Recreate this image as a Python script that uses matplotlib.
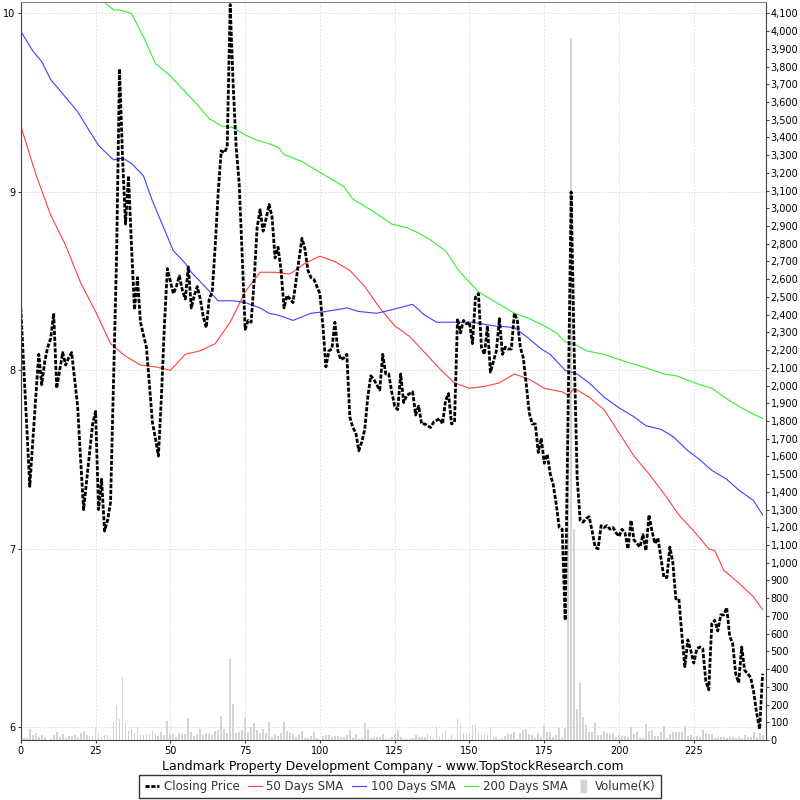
import numpy as np
import matplotlib.pyplot as plt
from matplotlib.lines import Line2D
from matplotlib.ticker import FuncFormatter, MultipleLocator

# closing price, one value per trading day
close = [8.35, 8.02, 7.68, 7.35, 7.60, 7.85, 8.09, 7.92, 8.05, 8.13,
         8.18, 8.32, 7.90, 8.00, 8.10, 8.03, 8.07, 8.10, 7.95, 7.80,
         7.50, 7.22, 7.38, 7.54, 7.70, 7.77, 7.22, 7.39, 7.10, 7.16,
         7.26, 7.95, 8.62, 9.69, 9.20, 8.82, 9.09, 8.70, 8.34, 8.52,
         8.27, 8.20, 8.13, 7.92, 7.71, 7.62, 7.52, 7.85, 8.25, 8.57,
         8.50, 8.43, 8.47, 8.53, 8.45, 8.40, 8.58, 8.35, 8.42, 8.47,
         8.40, 8.30, 8.24, 8.40, 8.44, 8.70, 9.00, 9.23, 9.22, 9.25,
         10.05, 9.60, 9.25, 9.05, 8.65, 8.23, 8.28, 8.27, 8.50, 8.80,
         8.90, 8.78, 8.85, 8.93, 8.86, 8.63, 8.69, 8.56, 8.35, 8.42,
         8.40, 8.38, 8.50, 8.62, 8.74, 8.68, 8.56, 8.52, 8.51, 8.47,
         8.43, 8.25, 8.02, 8.11, 8.12, 8.27, 8.11, 8.06, 8.07, 8.09,
         7.74, 7.68, 7.65, 7.55, 7.60, 7.67, 7.85, 7.97, 7.95, 7.92,
         7.89, 8.09, 7.98, 7.98, 7.88, 7.80, 7.78, 7.98, 7.82, 7.86,
         7.87, 7.88, 7.75, 7.80, 7.70, 7.70, 7.69, 7.68, 7.71, 7.72,
         7.73, 7.70, 7.83, 7.87, 7.70, 7.71, 8.29, 8.21, 8.28, 8.26,
         8.27, 8.15, 8.41, 8.43, 8.13, 8.09, 8.25, 7.99, 8.05, 8.11,
         8.29, 8.09, 8.13, 8.12, 8.12, 8.32, 8.28, 8.13, 8.07, 7.92,
         7.76, 7.70, 7.70, 7.54, 7.62, 7.48, 7.53, 7.42, 7.36, 7.25,
         7.12, 7.11, 6.60, 7.80, 9.00, 8.10, 7.40, 7.16, 7.15, 7.17,
         7.18, 7.10, 7.01, 7.00, 7.13, 7.12, 7.13, 7.11, 7.12, 7.09,
         7.07, 7.11, 7.09, 7.00, 7.16, 7.05, 7.03, 7.01, 7.08, 6.99,
         7.19, 7.10, 7.03, 7.06, 6.95, 6.84, 6.84, 7.01, 6.92, 6.72,
         6.72, 6.52, 6.34, 6.49, 6.43, 6.36, 6.44, 6.45, 6.44, 6.26,
         6.21, 6.58, 6.60, 6.54, 6.63, 6.63, 6.67, 6.51, 6.47, 6.30,
         6.25, 6.45, 6.32, 6.30, 6.28, 6.20, 6.08, 5.99, 6.30]

# volume in thousands
volume = [13, 13, 13, 60, 28, 41, 15, 28, 15, 0,
          8, 28, 45, 15, 34, 11, 23, 23, 28, 15,
          41, 53, 28, 23, 23, 71, 41, 15, 28, 28,
          19, 103, 198, 117, 354, 98, 51, 60, 38, 71,
          28, 28, 28, 34, 56, 38, 23, 47, 28, 107,
          34, 34, 19, 38, 34, 34, 126, 47, 23, 34,
          60, 28, 41, 34, 28, 53, 56, 135, 60, 41,
          457, 201, 38, 47, 56, 128, 47, 71, 98, 56,
          38, 60, 41, 103, 15, 34, 23, 41, 100, 51,
          41, 32, 19, 32, 51, 9, 9, 24, 43, 9,
          5, 24, 28, 28, 19, 24, 24, 19, 15, 28,
          56, 9, 34, 6, 13, 98, 60, 9, 15, 15,
          19, 32, 6, 4, 15, 34, 56, 15, 8, 4,
          4, 13, 26, 15, 15, 19, 32, 19, 19, 75,
          19, 32, 51, 4, 28, 4, 117, 94, 38, 32,
          34, 83, 90, 47, 28, 32, 28, 66, 19, 19,
          6, 9, 23, 34, 34, 43, 4, 38, 56, 60,
          32, 28, 9, 38, 15, 85, 45, 43, 15, 28,
          69, 19, 69, 1800, 3960, 1189, 175, 322, 128, 83,
          45, 47, 98, 28, 26, 51, 38, 34, 41, 15,
          28, 24, 24, 15, 71, 32, 43, 9, 9, 90,
          53, 56, 23, 24, 47, 81, 9, 32, 43, 43,
          43, 47, 81, 23, 28, 15, 23, 15, 56, 38,
          34, 32, 13, 19, 15, 19, 9, 15, 15, 9,
          15, 9, 28, 15, 19, 43, 15, 38, 28]

sma50_days = [0, 5, 10, 15, 20, 25, 30, 35, 40, 45, 50, 55, 60, 65, 70, 75, 80, 85,
              90, 95, 100, 105, 110, 115, 120, 125, 130, 135, 140, 145, 150, 155,
              160, 165, 170, 175, 181, 183, 185, 190, 195, 200, 205, 210, 215, 220,
              225, 230, 232, 235, 240, 245, 248]
sma50 = [9.37, 9.10, 8.87, 8.70, 8.49, 8.33, 8.15, 8.08, 8.03, 8.02, 8.00, 8.09, 8.11,
         8.15, 8.27, 8.44, 8.55, 8.55, 8.54, 8.60, 8.64, 8.61, 8.56, 8.47, 8.35, 8.25,
         8.19, 8.10, 8.01, 7.93, 7.90, 7.91, 7.93, 7.98, 7.95, 7.90, 7.88, 7.86, 7.90,
         7.85, 7.78, 7.65, 7.52, 7.42, 7.31, 7.19, 7.10, 7.00, 6.99, 6.88, 6.81, 6.73,
         6.66]

sma100_days = [0, 4, 7, 10, 14, 19, 23, 26, 31, 34, 37, 41, 44, 48, 51, 55, 57, 61,
               66, 71, 75, 80, 83, 86, 91, 97, 102, 109, 113, 119, 124, 131, 135, 139,
               145, 151, 158, 165, 169, 174, 177, 182, 186, 190, 195, 200, 205, 209,
               214, 218, 223, 227, 231, 236, 240, 245, 248]
sma100 = [9.90, 9.79, 9.73, 9.63, 9.55, 9.45, 9.34, 9.26, 9.18, 9.19, 9.16, 9.09, 8.95,
          8.79, 8.67, 8.60, 8.55, 8.48, 8.39, 8.39, 8.38, 8.35, 8.32, 8.31, 8.28, 8.32,
          8.33, 8.35, 8.33, 8.32, 8.34, 8.37, 8.31, 8.27, 8.27, 8.27, 8.25, 8.24, 8.19,
          8.12, 8.09, 8.00, 7.98, 7.93, 7.85, 7.79, 7.74, 7.69, 7.67, 7.63, 7.55, 7.50,
          7.44, 7.39, 7.33, 7.27, 7.19]

sma200_days = [26, 31, 33, 37, 41, 45, 50, 55, 59, 63, 67, 71, 75, 79, 83, 86, 88, 94,
               100, 108, 111, 117, 124, 129, 133, 137, 142, 144, 146, 148, 153, 158,
               165, 170, 175, 179, 182, 186, 189, 195, 202, 208, 215, 219, 227, 231,
               237, 242, 248]
sma200 = [10.09, 10.02, 10.02, 10.00, 9.87, 9.72, 9.65, 9.56, 9.49, 9.41, 9.37, 9.36,
          9.32, 9.29, 9.27, 9.25, 9.21, 9.17, 9.11, 9.03, 8.96, 8.90, 8.82, 8.80, 8.77,
          8.73, 8.67, 8.62, 8.57, 8.53, 8.44, 8.39, 8.32, 8.29, 8.25, 8.21, 8.16, 8.14,
          8.11, 8.09, 8.05, 8.02, 7.98, 7.97, 7.92, 7.90, 7.83, 7.78, 7.73]

days = np.arange(len(close))

fig = plt.figure(figsize=(8, 8), dpi=100)
ax = fig.add_axes([0.026, 0.075, 0.931, 0.922])
ax2 = ax.twinx()

# volume bars on the right axis, drawn under the price lines
ax2.bar(days, volume, width=0.6, color='#d4d4d4', linewidth=0)
ax2.set_ylim(0, 4162)
ax2.yaxis.set_major_locator(MultipleLocator(100))
ax2.yaxis.set_major_formatter(FuncFormatter(lambda v, p: '{:,.0f}'.format(v)))
ax2.tick_params(axis='y', labelsize=7, length=2, pad=1.5, color='#444444')
for s in ax2.spines.values():
    s.set_visible(False)

ax.set_zorder(ax2.get_zorder() + 1)
ax.patch.set_visible(False)

ax.plot(sma50_days, sma50, color='#ff4040', lw=0.8)
ax.plot(sma100_days, sma100, color='#4040ff', lw=0.8)
ax.plot(sma200_days, sma200, color='#33ee33', lw=0.8)
ax.plot(days, close, color='black', lw=2, dashes=(1.5, 0.6))

ax.set_xlim(0, 249)
ax.set_ylim(5.929, 10.062)
ax.set_xticks(range(0, 226, 25))
ax.set_yticks([6, 7, 8, 9, 10])
ax.grid(color='#d8d8d8', linestyle=(0, (2, 2)), lw=0.6)
ax.tick_params(labelsize=7, length=2, pad=2, color='#444444')
ax.spines['top'].set_color('#888888')
for side in ['left', 'right', 'bottom']:
    ax.spines[side].set_color('#444444')

ax.set_xlabel('Landmark Property Development Company - www.TopStockResearch.com',
              fontsize=9, labelpad=3)

rect = [(-0.25, -0.5), (0.25, -0.5), (0.25, 0.5), (-0.25, 0.5)]
handles = [Line2D([], [], color='black', lw=2, dashes=(1.5, 0.6)),
           Line2D([], [], color='#ff4040', lw=0.8),
           Line2D([], [], color='#4040ff', lw=0.8),
           Line2D([], [], color='#33ee33', lw=0.8),
           Line2D([], [], ls='none', marker=rect, markersize=9, color='#d4d4d4')]
labels = ['Closing Price', '50 Days SMA', '100 Days SMA', '200 Days SMA', 'Volume(K)']
leg = fig.legend(handles, labels, loc='lower center', bbox_to_anchor=(0.5, 0.002),
                 ncol=5, frameon=True, fancybox=False, edgecolor='black', fontsize=8.5,
                 handlelength=1.2, handletextpad=0.4, columnspacing=0.7,
                 borderpad=0.45, borderaxespad=0)
leg.get_frame().set_linewidth(1)
for t in leg.get_texts():
    t.set_color('#333333')

plt.savefig('out.png', dpi=100)
